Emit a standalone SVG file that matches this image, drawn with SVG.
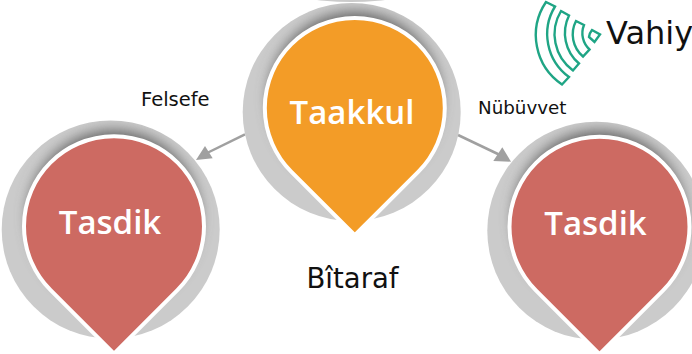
<svg xmlns="http://www.w3.org/2000/svg" width="692" height="354" viewBox="0 0 692 354">
<defs>
<style>
.ring{fill:#cbcbcb}
.drop{stroke:#fff;stroke-width:4;stroke-linejoin:round}
.shade{fill:#666}
.title{font-family:"Open Sans","DejaVu Sans",sans-serif;font-weight:600;font-size:33px;fill:#fff;text-anchor:middle}
.lbl{font-family:"DejaVu Sans",sans-serif;fill:#111}
.band{fill:none;stroke:#1fa585;stroke-width:2.4;stroke-linejoin:miter}
.conn{stroke:#a0a0a0;stroke-width:2.5;fill:none}
.head{fill:#a0a0a0}
</style>
<filter id="b" x="-30%" y="-30%" width="160%" height="160%"><feGaussianBlur stdDeviation="6.5"/></filter>
<clipPath id="c1"><circle cx="351.7" cy="112" r="109"/></clipPath>
<clipPath id="c2"><circle cx="110.7" cy="229.5" r="109"/></clipPath>
<clipPath id="c3"><circle cx="596.3" cy="230.7" r="109"/></clipPath>
</defs>
<ellipse cx="351" cy="-14" rx="70" ry="16" fill="#cbcbcb"/>
<g id="connectors">
<path class="conn" d="M245 134.3L205 154"/><path class="head" d="M196 160L205 146L212.7 158.3Z"/>
<path class="conn" d="M458 135L500 155"/><path class="head" d="M511 161.7L493.3 161L502.3 147.3Z"/>
</g>
<g id="node-taakkul">
<circle class="ring" cx="351.7" cy="112" r="109"/>
<g clip-path="url(#c1)"><circle class="shade" cx="354.8" cy="98" r="86" filter="url(#b)"/></g>
<path class="drop" fill="#f39c27" d="M291.16 171.64A90 90 0 1 1 418.44 171.64L354.8 235.28Z"/>
<text class="title" x="352" y="124">Taakkul</text>
</g>
<g id="node-tasdik-left">
<circle class="ring" cx="110.7" cy="229.5" r="109"/>
<g clip-path="url(#c2)"><circle class="shade" cx="114" cy="216.3" r="86" filter="url(#b)"/></g>
<path class="drop" fill="#cd6a62" d="M50.36 289.94A90 90 0 1 1 177.64 289.94L114 353.58Z"/>
<text class="title" x="110" y="234">Tasdik</text>
</g>
<g id="node-tasdik-right">
<circle class="ring" cx="596.3" cy="230.7" r="109"/>
<g clip-path="url(#c3)"><circle class="shade" cx="599.5" cy="216.8" r="86" filter="url(#b)"/></g>
<path class="drop" fill="#cd6a62" d="M535.86 290.44A90 90 0 1 1 663.14 290.44L599.5 354.08Z"/>
<text class="title" x="595.5" y="235">Tasdik</text>
</g>
<text class="lbl" x="141" y="106" font-size="19.5">Felsefe</text>
<text class="lbl" x="478" y="114" font-size="18.3">Nübüvvet</text>
<text class="lbl" x="306.5" y="288" font-size="27.5">Bîtaraf</text>
<g id="logo">
<path class="band" d="M546 2L555 6.5A53 53 0 0 0 569 77L562 84.5A59.5 59.5 0 0 1 546 2Z"/>
<path class="band" d="M561 11L569 15.5A40 40 0 0 0 579 63.5L573 70.5A45 45 0 0 1 561 11Z"/>
<path class="band" d="M576 21L584 25A22 22 0 0 0 589.5 49.5L583 56.5A29 29 0 0 1 576 21Z"/>
<path class="band" d="M592 30L600 34.5L594.5 42L589 37Q589.5 33 592 30Z"/>
<text class="lbl" x="606" y="44" font-size="32">Vahiy</text>
</g>
</svg>
